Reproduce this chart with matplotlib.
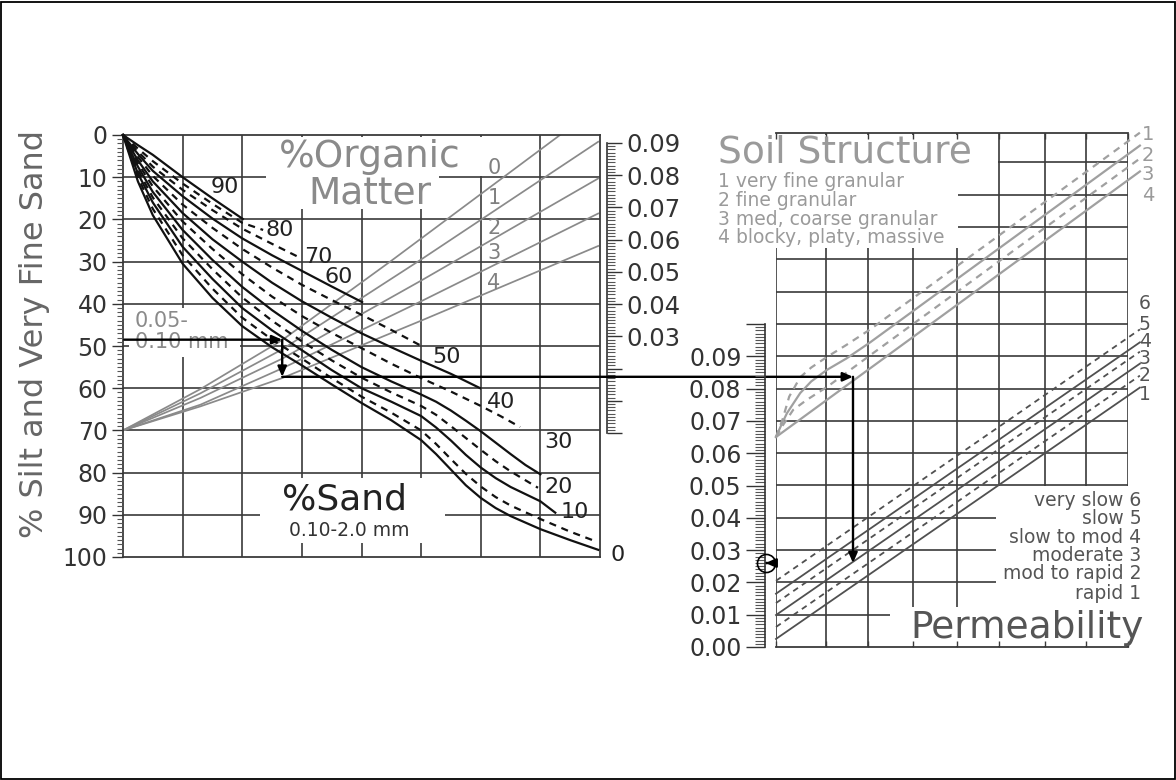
import matplotlib
matplotlib.use("Agg")
import matplotlib.pyplot as plt
from matplotlib.patches import Rectangle
from matplotlib.ticker import MultipleLocator, FixedLocator, FixedFormatter

plt.rcParams['font.family'] = ['DejaVu Sans']

# ------------------------------------------------------------------ data
silt_ticks = [0, 10, 20, 30, 40, 50, 60, 70, 80, 90, 100]
left_grid_x = [1, 2, 3, 4, 5, 6, 7]
left_grid_y = [10, 20, 30, 40, 50, 60, 70, 80, 90]

# %Sand curves (x = grid column, y = % silt + very fine sand)
sand90_x = [0, 0.25, 0.5, 1.0, 1.5, 2.01]
sand90_y = [0, 2.4, 4.7, 10.0, 15.0, 19.9]
sand80_x = [0, 0.25, 0.5, 1.0, 1.5, 2.0, 2.35]
sand80_y = [0, 3.2, 6.2, 11.5, 16.3, 20.8, 22.5]
sand70_x = [0, 0.25, 0.5, 1.0, 1.5, 2.0, 2.5, 2.97]
sand70_y = [0, 3.9, 7.5, 13.0, 17.8, 22.2, 25.8, 29.1]
sand60_x = [0, 0.25, 0.5, 1.0, 1.5, 2.0, 2.5, 3.0, 3.5, 4.01]
sand60_y = [0, 4.5, 8.5, 14.5, 19.8, 24.5, 28.5, 32.2, 35.9, 39.6]
sand50_x = [0, 0.25, 0.5, 1.0, 1.5, 2.0, 2.5, 3.0, 3.5, 4.0, 4.5, 4.98]
sand50_y = [0, 5.2, 9.7, 16.5, 22.0, 27.0, 31.4, 35.5, 39.1, 42.6, 46.2, 49.8]
sand40_x = [0, 0.25, 0.5, 1.0, 1.5, 2.0, 2.5, 3.0, 3.5, 4.0, 4.5, 5.0, 5.5, 5.99]
sand40_y = [0, 6.0, 11.0, 18.5, 24.7, 30.0, 35.0, 39.4, 43.3, 47.0, 50.3, 53.5, 56.6, 60.0]
sand30_x = [0, 0.25, 0.5, 1.0, 1.5, 2.0, 2.5, 3.0, 3.5, 4.0, 4.5, 5.0, 5.5, 6.0, 6.33, 6.66]
sand30_y = [0, 6.7, 12.2, 20.5, 27.0, 33.0, 38.3, 42.9, 46.9, 50.5, 54.2, 57.6, 60.8, 64.2, 66.6, 69.2]
sand20_x = [0, 0.25, 0.5, 1.0, 1.5, 2.0, 2.5, 3.0, 3.5, 4.0, 4.5, 5.0, 5.25, 5.5, 5.75,
            6.0, 6.25, 6.5, 6.75, 7.0]
sand20_y = [0, 7.5, 13.5, 22.5, 29.6, 36.0, 41.5, 46.4, 50.9, 55.0, 58.4, 61.5, 63.2, 65.3, 67.7,
            70.2, 72.9, 75.6, 78.2, 80.4]
sand15_x = [0, 0.25, 0.5, 1.0, 1.5, 2.0, 2.5, 3.0, 3.5, 4.0, 4.5, 5.0, 5.25, 5.5, 5.75,
            6.0, 6.25, 6.5, 6.96]
sand15_y = [0, 8.3, 14.8, 24.5, 31.8, 38.5, 44.0, 48.9, 53.4, 57.5, 61.0, 64.2, 66.3, 69.0, 71.8,
            74.6, 77.3, 79.7, 83.6]
sand10_x = [0, 0.25, 0.5, 1.0, 1.5, 2.0, 2.5, 3.0, 3.5, 4.0, 4.5, 5.0, 5.25, 5.5, 5.75,
            6.0, 6.25, 6.5, 7.0, 7.25]
sand10_y = [0, 9.1, 16.0, 26.5, 34.1, 41.0, 46.3, 51.0, 55.7, 60.0, 63.2, 66.6, 69.3, 72.4, 75.8,
            78.8, 81.3, 83.4, 86.8, 89.5]
sand5_x = [0, 0.25, 0.5, 1.0, 1.5, 2.0, 2.5, 3.0, 3.5, 4.0, 4.5, 5.0, 5.25, 5.5, 5.75,
           6.0, 6.25, 6.5, 7.0, 7.5, 7.95]
sand5_y = [0, 10.0, 17.5, 28.5, 36.4, 43.3, 48.5, 53.0, 57.6, 62.0, 65.8, 70.0, 73.2, 76.8, 80.3,
           83.3, 85.8, 87.8, 91.0, 94.0, 96.4]
sand0_x = [0, 0.25, 0.5, 1.0, 1.5, 2.0, 2.5, 3.0, 3.5, 4.0, 4.5, 5.0, 5.25, 5.5, 5.75,
           6.0, 6.25, 6.5, 7.0, 7.5, 7.97]
sand0_y = [0, 11.0, 19.0, 30.5, 38.6, 45.3, 50.3, 54.6, 59.1, 63.5, 67.6, 72.3, 75.6, 79.3, 83.0,
           86.0, 88.4, 90.3, 93.4, 96.0, 98.3]

sand_labels = ['90', '80', '70', '60', '50', '40', '30', '20', '10', '0']
sand_label_x = [1.7, 2.62, 3.28, 3.62, 5.42, 6.35, 7.3, 7.3, 7.57, 8.3]
sand_label_y = [12.3, 22.4, 28.8, 33.6, 52.6, 63.3, 72.7, 83.4, 89.3, 99.6]

# %Organic matter lines (grey)
om0_x = [0, 1.3, 2.67, 4.5, 7.33]
om0_y = [70, 60.2, 48.6, 29.8, 0]
om1_x = [0, 1.3, 2.67, 5.0, 7.97]
om1_y = [70, 61.2, 50.8, 29.5, 1.6]
om2_x = [0, 1.3, 2.67, 5.0, 7.97]
om2_y = [70, 62.3, 53.0, 34.5, 10.3]
om3_x = [0, 1.3, 2.67, 5.0, 7.97]
om3_y = [70, 63.9, 55.3, 39.4, 18.6]
om4_x = [0, 1.3, 2.67, 5.0, 7.97]
om4_y = [70, 64.3, 57.6, 44.0, 26.3]
om_labels = ['0', '1', '2', '3', '4']
om_label_y = [7.8, 14.9, 22.0, 28.0, 35.1]

# M scale (middle) and right scale
m_ticks = [0.0, 0.01, 0.02, 0.03, 0.04, 0.05, 0.06, 0.07, 0.08, 0.09]
m_labels = ['', '', '', '0.03', '0.04', '0.05', '0.06', '0.07', '0.08', '0.09']
r_ticks = [0.0, 0.01, 0.02, 0.03, 0.04, 0.05, 0.06, 0.07, 0.08, 0.09, 0.10]
r_labels = ['0.00', '0.01', '0.02', '0.03', '0.04', '0.05', '0.06', '0.07', '0.08', '0.09', '']

# right panel grid
right_grid_x = [0, 1.14, 2.09, 3.11, 4.11, 5.07, 6.11, 7.05, 8.0]
right_grid_y = [0.01, 0.02, 0.03, 0.04, 0.05, 0.06, 0.07, 0.08, 0.09, 0.10,
                0.11, 0.12, 0.13, 0.14, 0.15]

# soil structure lines
soil1_x = [0, 0.15, 0.3, 0.55, 0.8, 1.16, 1.6, 2.14, 8.27]
soil1_y = [0.065, 0.0705, 0.0775, 0.0835, 0.0865, 0.0898, 0.0935, 0.0983, 0.1592]
soil2_x = [0, 0.14, 0.25, 0.55, 0.8, 1.16, 1.6, 2.14, 8.27]
soil2_y = [0.065, 0.0693, 0.0724, 0.0786, 0.0822, 0.0858, 0.0893, 0.0943, 0.1552]
soil3_x = [0, 0.15, 0.39, 0.7, 1.16, 2.14, 8.27]
soil3_y = [0.065, 0.0685, 0.0734, 0.0765, 0.0805, 0.0903, 0.1512]
soil4_x = [0, 8.27]
soil4_y = [0.065, 0.1472]
soil_labels = ['1', '2', '3', '4']
soil_label_y = [0.1585, 0.1522, 0.1461, 0.1399]
soil_legend = ['1 very fine granular', '2 fine granular',
               '3 med, coarse granular', '4 blocky, platy, massive']
soil_legend_y = [0.1440, 0.1381, 0.1322, 0.1266]

# permeability lines (start / end values)
perm_x = [0, 8.27]
perm1_y = [0.0025, 0.0803]
perm2_y = [0.0062, 0.0840]
perm3_y = [0.0099, 0.0877]
perm4_y = [0.0136, 0.0914]
perm5_y = [0.0165, 0.0943]
perm6_y = [0.0205, 0.0983]
perm_num_labels = ['6', '5', '4', '3', '2', '1']
perm_num_y = [0.1062, 0.0998, 0.0945, 0.0893, 0.0840, 0.0782]
perm_classes = ['very slow 6', 'slow 5', 'slow to mod 4', 'moderate 3',
                'mod to rapid 2', 'rapid 1']
perm_class_y = [0.0455, 0.0399, 0.0339, 0.0282, 0.0226, 0.0167]

# worked example path
ex_silt = 48.5
ex_sand_x = 2.67
ex_om_y = 57.3
ex_struct_x = 1.75
ex_perm = 0.026

# ------------------------------------------------------------------ style
W, H = 1176, 780
GRID = '#3a3a3a'
INK = '#111111'
GREY_OM = '#8a8a8a'
GREY_SOIL = '#a0a0a0'
GREY_PERM = '#505050'
DASH = (0, (3.2, 2.6))


def px_rect(x0, y0, x1, y1):
    return [x0 / W, 1 - y1 / H, (x1 - x0) / W, (y1 - y0) / H]


fig = plt.figure(figsize=(W / 100, H / 100), dpi=100)
fig.patches.append(Rectangle((0.001, 0.001), 0.998, 0.997, transform=fig.transFigure,
                             fill=False, edgecolor='black', lw=1.3))

# ================================================================ left panel
ax_l = fig.add_axes(px_rect(123, 135, 600, 557))
ax_l.set_xlim(0, 8)
ax_l.set_ylim(100, 0)
ax_l.set_axisbelow(False)
for gx in left_grid_x:
    ax_l.axvline(gx, color=GRID, lw=1.2, zorder=0.8)
for gy in left_grid_y:
    ax_l.axhline(gy, color=GRID, lw=1.2, zorder=0.8)
for s in ax_l.spines.values():
    s.set_color(GRID)
    s.set_linewidth(1.3)

# white masks behind the titles
for (x0, y0, x1, y1) in [(2.4, 0.4, 5.3, 17.6), (5.3, 0.4, 6.15, 9.8),
                         (0.1, 41.0, 1.97, 52.6), (2.3, 81.2, 5.4, 96.6)]:
    ax_l.add_patch(Rectangle((x0, y0), x1 - x0, y1 - y0, facecolor='white',
                             edgecolor='none', zorder=1))

ax_l.set_xticks([])
ax_l.yaxis.set_major_locator(FixedLocator(silt_ticks))
ax_l.yaxis.set_minor_locator(MultipleLocator(1))
ax_l.tick_params(axis='y', which='major', direction='out', length=8, width=1.0,
                 labelsize=17, pad=3, colors='#333333')
ax_l.tick_params(axis='y', which='minor', direction='out', length=4.5, width=0.8,
                 colors='#555555')
ax_l.set_ylabel('% Silt and Very Fine Sand', fontsize=23, color='#666666')
ax_l.yaxis.set_label_coords(-0.153, 0.528)

# organic matter grey lines
for xs, ys in [(om0_x, om0_y), (om1_x, om1_y), (om2_x, om2_y), (om3_x, om3_y), (om4_x, om4_y)]:
    ax_l.plot(xs, ys, color=GREY_OM, lw=1.25, zorder=2)
for lab, ly in zip(om_labels, om_label_y):
    ax_l.text(6.22, ly, lab, fontsize=15, color='#808080', ha='center', va='center', zorder=4)

# sand curves
curves = [(sand90_x, sand90_y, '-'), (sand80_x, sand80_y, DASH), (sand70_x, sand70_y, DASH),
          (sand60_x, sand60_y, '-'), (sand50_x, sand50_y, DASH), (sand40_x, sand40_y, '-'),
          (sand30_x, sand30_y, DASH), (sand20_x, sand20_y, '-'), (sand15_x, sand15_y, DASH),
          (sand10_x, sand10_y, '-'), (sand5_x, sand5_y, DASH), (sand0_x, sand0_y, '-')]
for xs, ys, ls in curves:
    ax_l.plot(xs, ys, color=INK, lw=1.6, ls=ls, zorder=3, clip_on=False,
              solid_joinstyle='round')
for lab, lx, ly in zip(sand_labels, sand_label_x, sand_label_y):
    ax_l.text(lx, ly, lab, fontsize=16, color='#222222', ha='center', va='center', zorder=4,
              clip_on=False)

ax_l.text(4.14, 5.3, '%Organic', fontsize=27, color='#8a8a8a', ha='center', va='center', zorder=4)
ax_l.text(4.14, 13.8, 'Matter', fontsize=27, color='#8a8a8a', ha='center', va='center', zorder=4)
ax_l.text(3.72, 86.3, '%Sand', fontsize=26, color='#222222', ha='center', va='center', zorder=4)
ax_l.text(3.8, 93.8, '0.10-2.0 mm', fontsize=13.5, color='#333333', ha='center', va='center',
          zorder=4)
ax_l.text(0.2, 44.0, '0.05-', fontsize=15, color='#8a8a8a', ha='left', va='center', zorder=2)
ax_l.text(0.2, 49.0, '0.10 mm', fontsize=15, color='#8a8a8a', ha='left', va='center', zorder=2)

# ================================================================ middle scale
ax_m = fig.add_axes(px_rect(606, 143, 607, 433))
ax_m.set_ylim(0, 0.09)
ax_m.set_xticks([])
ax_m.patch.set_visible(False)
for k in ['left', 'top', 'bottom']:
    ax_m.spines[k].set_visible(False)
ax_m.spines['right'].set_color('#333333')
ax_m.spines['right'].set_linewidth(1.2)
ax_m.yaxis.tick_right()
ax_m.yaxis.set_major_locator(FixedLocator(m_ticks))
ax_m.yaxis.set_major_formatter(FixedFormatter(m_labels))
ax_m.yaxis.set_minor_locator(MultipleLocator(0.001))
ax_m.tick_params(axis='y', which='major', direction='out', length=11, width=1.0,
                 labelsize=17.5, pad=3, colors='#333333')
ax_m.tick_params(axis='y', which='minor', direction='out', length=6, width=0.8,
                 colors='#555555')

# ================================================================ right panel
ax_r = fig.add_axes(px_rect(776, 133, 1128, 647))
ax_r.set_xlim(0, 8)
ax_r.set_ylim(0, 0.1591)
ax_r.set_axisbelow(False)
for gx in right_grid_x:
    ax_r.axvline(gx, color=GRID, lw=1.2, zorder=0.8)
for gy in right_grid_y:
    ax_r.axhline(gy, color=GRID, lw=1.2, zorder=0.8)
for k in ['left', 'right']:
    ax_r.spines[k].set_visible(False)
for k in ['top', 'bottom']:
    ax_r.spines[k].set_color(GRID)
    ax_r.spines[k].set_linewidth(1.3)
for (x0, y0, x1, y1) in [(-0.1, 0.1235, 4.14, 0.1585), (4.14, 0.1455, 5.04, 0.1585),
                         (5.0, 0.0003, 8.1, 0.0497), (2.6, 0.0003, 5.0, 0.0124)]:
    ax_r.add_patch(Rectangle((x0, y0), x1 - x0, y1 - y0, facecolor='white',
                             edgecolor='none', zorder=1, clip_on=False))
ax_r.xaxis.set_ticks_position('both')
ax_r.set_xticks(right_grid_x)
ax_r.tick_params(axis='x', which='both', direction='in', length=4, width=1.0,
                 labelbottom=False, labeltop=False, colors=GRID)
ax_r.set_yticks([])

for xs, ys, ls in [(soil1_x, soil1_y, DASH), (soil2_x, soil2_y, '-'),
                   (soil3_x, soil3_y, DASH), (soil4_x, soil4_y, '-')]:
    ax_r.plot(xs, ys, color=GREY_SOIL, lw=1.6, ls=ls, zorder=2, clip_on=False)
for ys, ls in [(perm1_y, '-'), (perm2_y, DASH), (perm3_y, '-'),
               (perm4_y, DASH), (perm5_y, '-'), (perm6_y, DASH)]:
    ax_r.plot(perm_x, ys, color=GREY_PERM, lw=1.3, ls=ls, zorder=2, clip_on=False)

for lab, ly in zip(soil_labels, soil_label_y):
    ax_r.text(8.45, ly, lab, fontsize=14, color='#9a9a9a', ha='center', va='center', clip_on=False)
for lab, ly in zip(perm_num_labels, perm_num_y):
    ax_r.text(8.38, ly, lab, fontsize=13.5, color='#555555', ha='center', va='center',
              clip_on=False)
for lab, ly in zip(perm_classes, perm_class_y):
    ax_r.text(8.3, ly, lab, fontsize=13.5, color='#555555', ha='right', va='center',
              zorder=4, clip_on=False)
ax_r.text(-1.32, 0.1530, 'Soil Structure', fontsize=27, color='#9a9a9a', ha='left',
          va='center', clip_on=False, zorder=4)
for lab, ly in zip(soil_legend, soil_legend_y):
    ax_r.text(-1.32, ly, lab, fontsize=13.5, color='#9a9a9a', ha='left', va='center',
              clip_on=False, zorder=4)
ax_r.text(8.35, 0.0060, 'Permeability', fontsize=27, color='#555555', ha='right',
          va='center', clip_on=False, zorder=4)

# ================================================================ right scale
ax_s = fig.add_axes(px_rect(765, 324, 766, 647))
ax_s.set_ylim(0, 0.10)
ax_s.set_xlim(0, 1)
ax_s.set_xticks([])
ax_s.patch.set_visible(False)
for k in ['right', 'top', 'bottom']:
    ax_s.spines[k].set_visible(False)
ax_s.spines['left'].set_color('#333333')
ax_s.spines['left'].set_linewidth(1.2)
ax_s.yaxis.set_major_locator(FixedLocator(r_ticks))
ax_s.yaxis.set_major_formatter(FixedFormatter(r_labels))
ax_s.yaxis.set_minor_locator(MultipleLocator(0.001))
ax_s.tick_params(axis='y', which='major', direction='out', length=14, width=1.0,
                 labelsize=17, pad=3, colors='#333333')
ax_s.tick_params(axis='y', which='minor', direction='out', length=7, width=0.8,
                 colors='#555555')

# ================================================================ worked example
arrow = dict(arrowstyle='-|>,head_length=0.5,head_width=0.22', color='black', lw=1.7,
             mutation_scale=12, shrinkA=0, shrinkB=0)
ax_l.annotate('', xy=(ex_sand_x, ex_silt), xytext=(0.02, ex_silt), arrowprops=arrow,
              annotation_clip=False, zorder=5)
ax_l.annotate('', xy=(ex_sand_x, ex_om_y), xytext=(ex_sand_x, ex_silt), arrowprops=arrow,
              annotation_clip=False, zorder=5)
y_r = ax_r.transData.inverted().transform(ax_l.transData.transform((0, ex_om_y)))[1]
ax_r.annotate('', xy=(ex_struct_x, y_r), xytext=(ex_sand_x, ex_om_y),
              textcoords=ax_l.transData, arrowprops=arrow, annotation_clip=False, zorder=5)
ax_r.annotate('', xy=(ex_struct_x, ex_perm), xytext=(ex_struct_x, y_r), arrowprops=arrow,
              annotation_clip=False, zorder=5)
ax_r.annotate('', xy=(0.5, ex_perm), xycoords=ax_s.transData, xytext=(ex_struct_x, ex_perm),
              arrowprops=arrow, annotation_clip=False, zorder=5)
ax_s.plot([0.5], [ex_perm], marker='o', ms=13, mfc='none', mec='black', mew=1.2,
          clip_on=False, zorder=5)

fig.savefig('out.png', dpi=100)
